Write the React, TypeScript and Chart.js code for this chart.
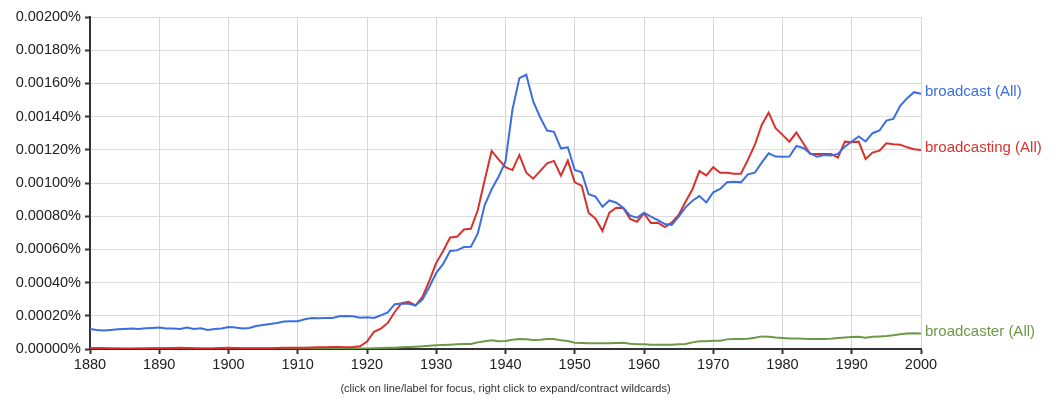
import React, { useEffect, useRef } from "react";
import { Chart, registerables } from "chart.js";

Chart.register(...registerables);

// Years 1880..2000 (one value per year)
const START_YEAR = 1880;
const END_YEAR = 2000;
// Values are in units of 0.00001 %
const UNIT = 0.00001;

const seriesNames = ["broadcast (All)", "broadcasting (All)", "broadcaster (All)"];
const seriesColors = ["#3c6ee0", "#d6322c", "#6b9a47"];

const broadcast = [
  12.1, 11.5, 11.1, 11.5, 11.9, 12.1, 12.3, 12.1, 12.5, 12.7,
  12.9, 12.3, 12.3, 12.1, 12.9, 12.1, 12.5, 11.5, 12.1, 12.3,
  13.3, 12.9, 12.3, 12.7, 13.9, 14.5, 15.1, 15.7, 16.5, 16.7,
  16.7, 17.9, 18.7, 18.5, 18.7, 18.7, 19.7, 19.9, 19.7, 18.9,
  19.1, 18.7, 20.3, 22.1, 27.0, 27.4, 27.2, 26.2, 29.8, 37.4,
  45.9, 51.3, 59.0, 59.4, 61.4, 61.6, 69.6, 86.7, 96.2, 103.8,
  113.0, 144.1, 163.2, 165.2, 149.1, 139.6, 131.6, 130.8, 120.9, 121.5,
  107.8, 106.4, 93.2, 91.8, 85.7, 89.5, 88.1, 85.1, 80.3, 79.1,
  82.1, 79.7, 77.7, 75.3, 74.7, 79.7, 85.3, 89.3, 92.1, 88.3,
  94.4, 96.4, 100.4, 100.8, 100.4, 105.2, 106.2, 112.3, 117.9, 115.9,
  115.8, 115.9, 122.3, 121.1, 117.9, 115.9, 116.9, 116.5, 117.5, 121.9,
  125.0, 128.0, 125.0, 130.0, 131.6, 137.6, 138.6, 146.5, 151.1, 154.7,
  153.7,
];

const broadcasting = [
  0.5, 0.6, 0.5, 0.3, 0.3, 0.2, 0.2, 0.3, 0.3, 0.4,
  0.4, 0.5, 0.6, 0.7, 0.6, 0.4, 0.3, 0.3, 0.4, 0.6,
  0.7, 0.6, 0.4, 0.4, 0.4, 0.5, 0.5, 0.6, 0.7, 0.7,
  0.7, 0.8, 0.9, 1.0, 1.1, 1.2, 1.2, 1.1, 1.2, 1.6,
  4.5, 10.3, 12.3, 15.7, 22.3, 27.6, 28.4, 26.2, 31.4, 41.1,
  51.9, 59.0, 67.2, 67.6, 72.0, 72.4, 83.7, 101.8, 119.3, 114.2,
  109.5, 107.8, 116.9, 106.2, 102.6, 107.2, 111.9, 113.3, 104.4, 113.5,
  100.4, 98.4, 82.1, 78.5, 71.2, 82.1, 85.1, 84.9, 78.4, 76.7,
  81.7, 75.9, 76.1, 73.4, 76.1, 80.7, 88.7, 96.2, 107.2, 104.6,
  109.5, 106.2, 106.2, 105.6, 105.6, 113.9, 122.9, 135.0, 142.4, 133.0,
  129.0, 124.9, 130.4, 123.9, 117.5, 117.5, 117.5, 117.5, 115.3, 124.9,
  124.5, 124.9, 114.5, 118.3, 119.5, 123.9, 123.3, 123.1, 121.5, 120.3,
  119.9,
];

const broadcaster = [
  0.4, 0.4, 0.4, 0.3, 0.3, 0.3, 0.3, 0.3, 0.3, 0.4,
  0.4, 0.4, 0.4, 0.5, 0.5, 0.4, 0.3, 0.3, 0.3, 0.4,
  0.4, 0.4, 0.3, 0.3, 0.3, 0.3, 0.3, 0.4, 0.4, 0.4,
  0.4, 0.4, 0.4, 0.4, 0.3, 0.3, 0.3, 0.3, 0.3, 0.3,
  0.3, 0.5, 0.6, 0.7, 0.8, 1.0, 1.2, 1.4, 1.6, 1.9,
  2.2, 2.4, 2.6, 2.8, 3.0, 3.0, 4.0, 4.6, 5.2, 4.6,
  4.8, 5.6, 6.0, 5.8, 5.4, 5.6, 6.0, 6.0, 5.2, 4.8,
  3.8, 3.6, 3.4, 3.4, 3.4, 3.4, 3.6, 3.8, 3.2, 2.8,
  2.8, 2.6, 2.6, 2.6, 2.6, 2.8, 3.0, 4.0, 4.6, 4.6,
  5.0, 5.0, 5.8, 6.0, 6.0, 6.2, 6.8, 7.6, 7.4, 7.0,
  6.7, 6.4, 6.4, 6.2, 6.0, 6.0, 6.0, 6.2, 6.6, 7.0,
  7.2, 7.4, 6.8, 7.4, 7.6, 7.8, 8.3, 8.9, 9.4, 9.5,
  9.3,
];

const seriesValues = [broadcast, broadcasting, broadcaster];

const Y_MAX = 0.002;
const Y_STEP = 0.0002;
const X_STEP = 10;
const FOOTNOTE = "(click on line/label for focus, right click to expand/contract wildcards)";
const FONT = '"Liberation Sans", Arial, Helvetica, sans-serif';

const endLabels = {
  id: "endLabels",
  afterDraw(chart: any) {
    const ctx = chart.ctx;
    const area = chart.chartArea;
    const yScale = chart.scales.y;
    ctx.save();
    ctx.font = `15px ${FONT}`;
    ctx.textAlign = "left";
    ctx.textBaseline = "middle";
    chart.data.datasets.forEach((ds: any) => {
      const last = ds.data[ds.data.length - 1];
      const y = yScale.getPixelForValue(last.y);
      ctx.fillStyle = ds.borderColor;
      ctx.fillText(ds.label, area.right + 4, y - 2);
    });
    ctx.font = `11px ${FONT}`;
    ctx.fillStyle = "#333";
    ctx.textAlign = "center";
    ctx.fillText(FOOTNOTE, (area.left + area.right) / 2, 389);
    ctx.restore();
  },
};

export default function App() {
  const canvasRef = useRef<HTMLCanvasElement | null>(null);

  useEffect(() => {
    if (!canvasRef.current) return;
    const years: number[] = [];
    for (let y = START_YEAR; y <= END_YEAR; y++) years.push(y);

    const datasets = seriesNames.map((name, i) => ({
      label: name,
      data: years.map((yr, j) => ({ x: yr, y: seriesValues[i][j] * UNIT })),
      borderColor: seriesColors[i],
      backgroundColor: seriesColors[i],
      borderWidth: 2,
      pointRadius: 0,
      tension: 0,
      fill: false,
    }));

    const chart = new Chart(canvasRef.current, {
      type: "line",
      data: { datasets },
      options: {
        animation: false,
        responsive: false,
        maintainAspectRatio: false,
        layout: { padding: { left: 0, top: 17, right: 141, bottom: 0 } },
        plugins: {
          legend: { display: false },
          tooltip: { enabled: false },
        },
        scales: {
          x: {
            type: "linear",
            min: START_YEAR,
            max: END_YEAR,
            afterFit: (scale: any) => {
              scale.height = 60;
            },
            ticks: {
              stepSize: X_STEP,
              color: "#222",
              font: { family: FONT, size: 14.5 },
              padding: 2,
              maxRotation: 0,
              callback: (v: any) => String(v),
            },
            grid: {
              color: "#d6d6d6",
              lineWidth: 1,
              tickColor: "#333",
              tickLength: 5,
              tickWidth: 2,
            },
            border: { color: "#333", width: 2 },
          },
          y: {
            type: "linear",
            min: 0,
            max: Y_MAX,
            afterFit: (scale: any) => {
              scale.width = 90;
            },
            ticks: {
              stepSize: Y_STEP,
              color: "#222",
              font: { family: FONT, size: 14.5 },
              padding: 4,
              callback: (v: any) => Number(v).toFixed(5) + "%",
            },
            grid: {
              color: "#dcdcdc",
              lineWidth: 1,
              tickColor: "#333",
              tickLength: 5,
              tickWidth: 2,
            },
            border: { color: "#333", width: 2 },
          },
        },
      },
      plugins: [endLabels],
    });
    return () => chart.destroy();
  }, []);

  return (
    <div style={{ position: "fixed", left: 0, top: 0, width: 1062, height: 409, background: "#fff" }}>
      <canvas ref={canvasRef} width={1062} height={409} />
    </div>
  );
}
